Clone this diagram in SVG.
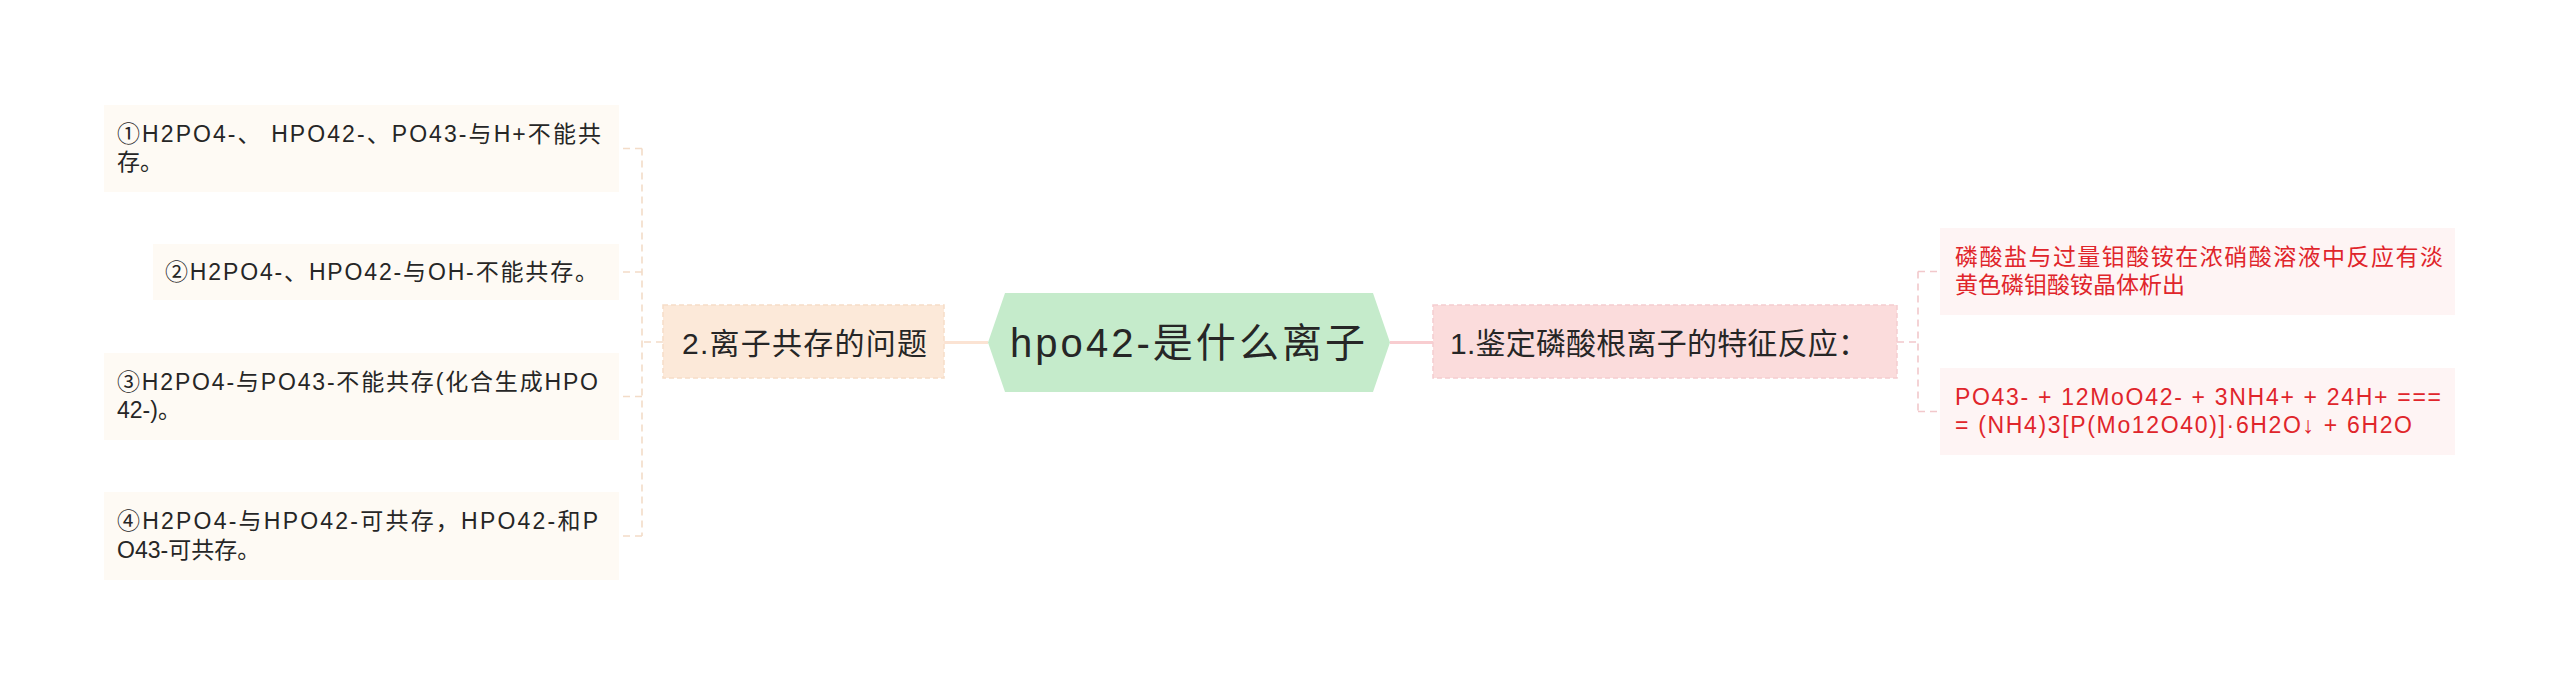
<svg xmlns="http://www.w3.org/2000/svg" width="2560" height="685" viewBox="0 0 2560 685">
<style>
text{font-family:"Liberation Sans","Noto Sans CJK SC",sans-serif;}
.leaf{fill:#FEFAF4;}
.leafR{fill:#FEF4F4;}
.lt{font-size:23px;fill:#262626;}
.rt{font-size:23px;fill:#E0252B;}
.l1{font-size:30px;fill:#262626;}
.cl{fill:none;stroke:#F3DCC8;stroke-width:1.6;stroke-dasharray:7 5;}
.cr{fill:none;stroke:#F2C8CB;stroke-width:1.6;stroke-dasharray:7 5;}
</style>
<rect width="2560" height="685" fill="#FFFFFF"/>
<g id="connectors">
<line x1="988" y1="342.5" x2="944" y2="342.5" stroke="#FBE3D3" stroke-width="3"/>
<line x1="1390" y1="342.5" x2="1433" y2="342.5" stroke="#F8CDD0" stroke-width="3"/>
<path class="cl" d="M663,342 H642 M642,148.5 V536 M642,148.5 H619 M642,272 H619 M642,396.5 H619 M642,536 H619"/>
<path class="cr" d="M1897,342 H1918 M1918,271.5 V411.5 M1918,271.5 H1940 M1918,411.5 H1940"/>
</g>
<g id="center">
<polygon points="1005,293 1373,293 1390,342.5 1373,392 1005,392 988,342.5" fill="#C5EBCB"/>
<text x="1010" y="357" font-size="40" fill="#262626" textLength="355" lengthAdjust="spacing">hpo42-是什么离子</text>
</g>
<g id="n2">
<rect x="663" y="305" width="281" height="73" fill="#FCE9D9" stroke="#F6DDC8" stroke-width="1.5" stroke-dasharray="5 3"/>
<text class="l1" x="682" y="354" textLength="245" lengthAdjust="spacing">2.离子共存的问题</text>
</g>
<g id="n1">
<rect x="1433" y="305" width="464" height="73" fill="#FBDCDC" stroke="#F5CDD0" stroke-width="1.5" stroke-dasharray="5 3"/>
<text class="l1" x="1450" y="354" textLength="418" lengthAdjust="spacing">1.鉴定磷酸根离子的特征反应：</text>
</g>
<g id="c1">
<rect class="leaf" x="104" y="105" width="515" height="87"/>
<text class="lt" x="117" y="142" textLength="484" lengthAdjust="spacing">①H2PO4-、 HPO42-、PO43-与H+不能共</text>
<text class="lt" x="117" y="170">存。</text>
</g>
<g id="c2">
<rect class="leaf" x="153" y="244" width="466" height="56"/>
<text class="lt" x="165" y="280" textLength="433" lengthAdjust="spacing">②H2PO4-、HPO42-与OH-不能共存。</text>
</g>
<g id="c3">
<rect class="leaf" x="104" y="353" width="515" height="87"/>
<text class="lt" x="117" y="390" textLength="481" lengthAdjust="spacing">③H2PO4-与PO43-不能共存(化合生成HPO</text>
<text class="lt" x="117" y="418">42-)。</text>
</g>
<g id="c4">
<rect class="leaf" x="104" y="492" width="515" height="88"/>
<text class="lt" x="117" y="529" textLength="481" lengthAdjust="spacing">④H2PO4-与HPO42-可共存，HPO42-和P</text>
<text class="lt" x="117" y="558">O43-可共存。</text>
</g>
<g id="r1">
<rect class="leafR" x="1940" y="228" width="515" height="87"/>
<text class="rt" x="1955" y="265" textLength="488" lengthAdjust="spacing">磷酸盐与过量钼酸铵在浓硝酸溶液中反应有淡</text>
<text class="rt" x="1955" y="293">黄色磷钼酸铵晶体析出</text>
</g>
<g id="r2">
<rect class="leafR" x="1940" y="368" width="515" height="87"/>
<text class="rt" x="1955" y="405" textLength="486" lengthAdjust="spacing">PO43- + 12MoO42- + 3NH4+ + 24H+ ===</text>
<text class="rt" x="1955" y="433" textLength="457" lengthAdjust="spacing">= (NH4)3[P(Mo12O40)]·6H2O↓ + 6H2O</text>
</g>
</svg>
